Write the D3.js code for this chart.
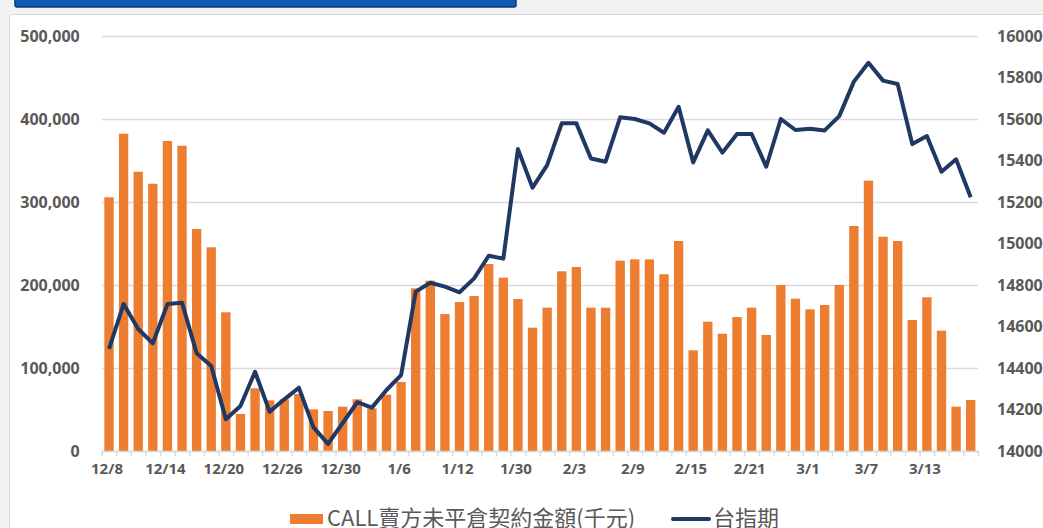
<!doctype html>
<html>
  <head>
    <meta charset="utf-8">
    <script src="https://d3js.org/d3.v7.min.js"></script>
    <style>
      body { margin: 0; background: #f2f2f2; }
      svg { display: block; }
      .tick text { font-family: "Open Sans", "Liberation Sans", sans-serif; font-weight: bold; fill: #595959; }
    </style>
  </head>

  <body>
    <svg class="chart" width=1043 height=528></svg>

    <script>
      // trading days 2022/12/8 - 2023/3/16
      var categories = ["12/8","12/9","12/12","12/13","12/14","12/15","12/16","12/19","12/20","12/21",
        "12/22","12/23","12/26","12/27","12/28","12/29","12/30","1/3","1/4","1/5",
        "1/6","1/9","1/10","1/11","1/12","1/13","1/16","1/17","1/30","1/31",
        "2/1","2/2","2/3","2/6","2/7","2/8","2/9","2/10","2/13","2/14",
        "2/15","2/16","2/17","2/20","2/21","2/22","2/23","2/24","3/1","3/2",
        "3/3","3/6","3/7","3/8","3/9","3/10","3/13","3/14","3/15","3/16"];

      // CALL 賣方未平倉契約金額 (千元)
      var callOI = [305700, 382300, 336500, 322000, 373500, 367800, 267500, 245400, 167100, 44600,
        75500, 61000, 62300, 68700, 50200, 48200, 53400, 62300, 51400, 67900,
        83100, 196000, 205200, 165000, 179500, 186700, 225300, 208800, 183100, 148600,
        172700, 216500, 221700, 172700, 172700, 229300, 230900, 230900, 212900, 253000,
        121300, 155800, 141300, 161400, 172700, 139800, 200000, 183500, 170700, 175900,
        200000, 271100, 325700, 258200, 253000, 157800, 185200, 145000, 53400, 61400];

      // 台指期
      var futures = [14492, 14708, 14588, 14519, 14708, 14715, 14471, 14410, 14153, 14217,
        14382, 14189, 14249, 14305, 14114, 14034, 14135, 14235, 14209, 14294,
        14366, 14768, 14811, 14792, 14765, 14832, 14941, 14927, 15455, 15269,
        15378, 15579, 15579, 15410, 15394, 15608, 15600, 15579, 15534, 15659,
        15391, 15545, 15438, 15528, 15528, 15370, 15600, 15547, 15553, 15545,
        15614, 15780, 15871, 15785, 15769, 15479, 15518, 15346, 15406, 15223];

      var leftTicks = [0, 100000, 200000, 300000, 400000, 500000];
      var rightTicks = [14000, 14200, 14400, 14600, 14800, 15000, 15200, 15400, 15600, 15800, 16000];
      var labelDates = ["12/8","12/14","12/20","12/26","12/30","1/6","1/12","1/30","2/3","2/9","2/15","2/21","3/1","3/7","3/13"];

      var legendNames = ["CALL賣方未平倉契約金額(千元)", "台指期"];

      var svg = d3.select("svg"),
        plotLeft = 101.7, plotRight = 978,
        plotTop = 36, plotBottom = 451;

      // page frame
      svg.append("rect").attr("x", 9.5).attr("y", 14.5).attr("width", 1100).attr("height", 600)
        .attr("rx", 3).attr("fill", "#fff").attr("stroke", "#d9d9d9");
      svg.append("rect").attr("x", 15).attr("y", -4).attr("width", 501).attr("height", 11)
        .attr("rx", 2).attr("fill", "#0f5cb3").attr("stroke", "#0b3d7a").attr("stroke-width", 1.5);

      var x = d3.scaleBand().domain(categories).range([plotLeft, plotRight])
        .paddingInner(0.36).paddingOuter(0.18);
      var xEdge = d3.scaleLinear().domain([0, categories.length]).range([plotLeft, plotRight]);
      var y = d3.scaleLinear().domain([0, 500000]).range([plotBottom, plotTop]);
      var y2 = d3.scaleLinear().domain([14000, 16000]).range([plotBottom, plotTop]);

      // gridlines + left labels
      var gy = svg.append("g").attr("transform", "translate(" + plotLeft + ",0)")
        .call(d3.axisLeft(y).tickValues(leftTicks).tickFormat(d3.format(",")).tickSize(-(plotRight - plotLeft)).tickPadding(22));
      gy.select(".domain").remove();
      gy.selectAll(".tick line").attr("stroke", "#d9d9d9").attr("stroke-width", 1.3);
      gy.selectAll(".tick text").style("font-size", "16px");

      var gr = svg.append("g").attr("transform", "translate(" + plotRight + ",0)")
        .call(d3.axisRight(y2).tickValues(rightTicks).tickFormat(d3.format("d")).tickSize(0).tickPadding(19));
      gr.select(".domain").remove();
      gr.selectAll(".tick text").style("font-size", "16px");

      // bars
      svg.append("g").selectAll("rect")
        .data(callOI)
        .enter().append("rect")
        .attr("x", function(d, i){ return x(categories[i]); })
        .attr("y", function(d){ return y(d); })
        .attr("width", x.bandwidth())
        .attr("height", function(d){ return plotBottom - y(d); })
        .attr("fill", "#ed7d31");

      // x axis: boundary ticks and date labels
      var gx = svg.append("g").attr("transform", "translate(0," + plotBottom + ")")
        .call(d3.axisBottom(xEdge).tickValues(d3.range(categories.length + 1)).tickFormat("").tickSize(5));
      gx.select(".domain").attr("stroke", "#d9d9d9").attr("stroke-width", 1.3);
      gx.selectAll(".tick line").attr("stroke", "#d9d9d9").attr("stroke-width", 1.3);

      var gl = svg.append("g").attr("transform", "translate(-2," + plotBottom + ")")
        .call(d3.axisBottom(x).tickValues(labelDates).tickSize(0).tickPadding(12));
      gl.select(".domain").remove();
      gl.selectAll(".tick text").style("font-size", "15px");

      // futures line
      var line = d3.line()
        .x(function(d, i){ return x(categories[i]) + x.bandwidth() / 2; })
        .y(function(d){ return y2(d); });
      svg.append("path").datum(futures)
        .attr("d", line)
        .attr("fill", "none")
        .attr("stroke", "#203864")
        .attr("stroke-width", 4)
        .attr("stroke-linejoin", "round");

      // legend
      var lg = svg.append("g").style("font-family", "'Noto Sans CJK TC', sans-serif")
        .style("font-size", "22px").attr("fill", "#595959");
      lg.append("rect").attr("x", 290).attr("y", 514).attr("width", 33).attr("height", 10).attr("fill", "#ed7d31");
      lg.append("text").attr("x", 327).attr("y", 526).text(legendNames[0]);
      lg.append("line").attr("x1", 673).attr("x2", 709).attr("y1", 519).attr("y2", 519)
        .attr("stroke", "#203864").attr("stroke-width", 4).attr("stroke-linecap", "round");
      lg.append("text").attr("x", 713).attr("y", 526).text(legendNames[1]);
    </script>
  </body>
</html>
